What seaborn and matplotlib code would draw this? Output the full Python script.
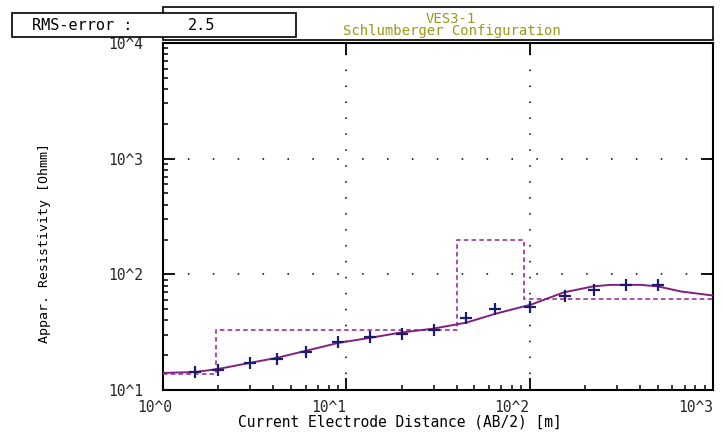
import numpy as np
import pandas as pd
import matplotlib
matplotlib.use("Agg")
import matplotlib.pyplot as plt
import matplotlib.transforms as mtransforms
from matplotlib.patches import Rectangle
from matplotlib.ticker import LogLocator, FixedLocator, NullFormatter
import seaborn as sns

# ---------------- data ----------------
# measured apparent resistivity (crosses)
meas_ab2 = [1.5, 2.0, 3.0, 4.2, 6.0, 9.0, 13.5, 20, 30, 45, 65, 100, 155, 225, 335, 500]
meas_rho = [14.3, 14.9, 17.2, 18.6, 21.4, 26.1, 28.9, 30.7, 33.2, 42.3, 50.6, 52.7, 64.4, 72.6, 80.2, 80.2]

# calculated (model response) curve
curve_ab2 = [1.0, 1.5, 2.0, 3.0, 4.2, 6.0, 9.1, 13.6, 19.6, 29.7, 45, 65.6, 102, 153, 222, 277, 404, 500, 668, 1000]
curve_rho = [14.05, 14.3, 15.2, 17.2, 19.0, 21.8, 25.6, 28.3, 31.3, 33.9, 38.2, 45.8, 54.8, 69.7, 78.7, 81.1, 81.1, 78.7, 71.1, 65.6]

# layered model
layer_rho = [13.8, 33.2, 198, 61.8]
layer_depth = [1.95, 40, 93]
x_range = [1, 1000]

x_ticks = [1, 10, 100, 1000]
x_ticklabels = ["10^0", "10^1", "10^2", "10^3"]
y_ticks = [10, 100, 1000, 10000]
y_ticklabels = ["10^1", "10^2", "10^3", "10^4"]

title_line1 = "VES3-1"
title_line2 = "Schlumberger Configuration"
rms_label = "RMS-error :"
rms_value = "2.5"
x_label = "Current Electrode Distance (AB/2) [m]"
y_label = "Appar. Resistivity [Ohmm]"

# --------------- build frames ---------------
meas_df = pd.DataFrame({"ab2": meas_ab2, "rho": meas_rho})
curve_df = pd.DataFrame({"ab2": curve_ab2, "rho": curve_rho})
step_x = [x_range[0]]
step_y = [layer_rho[0]]
for i, d in enumerate(layer_depth):
    step_x += [d, d]
    step_y += [layer_rho[i], layer_rho[i + 1]]
step_x.append(x_range[1])
step_y.append(layer_rho[-1])
model_df = pd.DataFrame({"ab2": step_x, "rho": step_y})

# --------------- style ---------------
sns.set_style("white")
plt.rcParams["font.family"] = ["DejaVu Sans Mono", "DejaVu Sans"]

W, H = 723, 432
fig = plt.figure(figsize=(W / 100, H / 100), dpi=100)
fig.patch.set_facecolor("white")
ax = fig.add_axes([163 / W, 1 - 390 / H, 550 / W, 347 / H])
ax.set_xscale("log")
ax.set_yscale("log")

# model (dashed step)
sns.lineplot(data=model_df, x="ab2", y="rho", sort=False, estimator=None,
             ax=ax, color="#a040a8", linewidth=1.3, legend=False,
             dashes=False, zorder=3)
ax.lines[-1].set_dashes((2.5, 1.8))

# calculated curve
sns.lineplot(data=curve_df, x="ab2", y="rho", sort=False, estimator=None,
             ax=ax, color="#802080", linewidth=1.4, legend=False, zorder=4)

# measured crosses
sns.scatterplot(data=meas_df, x="ab2", y="rho", marker="+", s=80,
                color="#1c1c6a", linewidth=1.6, ax=ax, legend=False, zorder=5)

ax.set_xlim(x_range)
ax.set_ylim(10, 10000)

# ticks
ax.xaxis.set_major_locator(FixedLocator(x_ticks))
ax.yaxis.set_major_locator(FixedLocator(y_ticks))
ax.xaxis.set_minor_locator(LogLocator(base=10, subs=range(2, 10)))
ax.yaxis.set_minor_locator(LogLocator(base=10, subs=range(2, 10)))
ax.xaxis.set_minor_formatter(NullFormatter())
ax.yaxis.set_minor_formatter(NullFormatter())
ax.set_xticks(x_ticks)
ax.set_xticklabels(x_ticklabels, ha="right", fontsize=10.5)
ax.set_yticks(y_ticks)
ax.set_yticklabels(y_ticklabels, fontsize=10.5)

ax.tick_params(which="major", direction="in", length=8.5, width=1.3,
               top=True, right=True, bottom=True, left=True, color="black")
ax.tick_params(axis="x", which="major", pad=7)
ax.tick_params(axis="y", which="major", pad=14)
ax.tick_params(which="minor", direction="in", length=3.6, width=1.1,
               top=False, right=False, bottom=True, left=True, color="black")

# shift first x label a little right as in reference
lbl0 = ax.get_xticklabels()[0]
lbl0.set_transform(lbl0.get_transform() +
                   mtransforms.ScaledTranslation(9 / 100, 0, fig.dpi_scale_trans))

for s in ax.spines.values():
    s.set_color("black")
    s.set_linewidth(1.5)

# dotted grid
ax.xaxis.grid(True, which="major", color="#333333", linewidth=1.4,
              linestyle=(0, (0.8, 7.4)))
ax.yaxis.grid(True, which="major", color="#333333", linewidth=1.4,
              linestyle=(0, (0.8, 12.0)))
ax.set_axisbelow(True)

# labels
ax.set_xlabel(x_label, fontsize=10.5, color="black")
ax.xaxis.set_label_coords((400 - 163) / 550, (390 - 422) / 347)
ax.xaxis.label.set_va("center")
ax.set_ylabel(y_label, fontsize=9.5, color="black")
ax.yaxis.set_label_coords((45 - 163) / 550, (390 - 243) / 347)
ax.yaxis.label.set_va("center")

# title box
fig.patches.append(Rectangle((163 / W, 1 - 40 / H), 550 / W, 33 / H,
                             transform=fig.transFigure, facecolor="white",
                             edgecolor="black", linewidth=1.2, zorder=1))
fig.text(451 / W, 1 - 19 / H, title_line1, ha="center", va="center",
         fontsize=10, color="#9a9a18", zorder=3)
fig.text(452 / W, 1 - 31.5 / H, title_line2, ha="center", va="center",
         fontsize=10, color="#9a9a18", zorder=3)

# RMS box
fig.patches.append(Rectangle((12 / W, 1 - 37 / H), 284 / W, 24 / H,
                             transform=fig.transFigure, facecolor="white",
                             edgecolor="black", linewidth=1.2, zorder=2))
fig.text(32 / W, 1 - 25 / H, rms_label, ha="left", va="center",
         fontsize=11, color="black", zorder=3)
fig.text(188 / W, 1 - 25 / H, rms_value, ha="left", va="center",
         fontsize=11, color="black", zorder=3)

fig.savefig("out.png", dpi=100, facecolor="white")
